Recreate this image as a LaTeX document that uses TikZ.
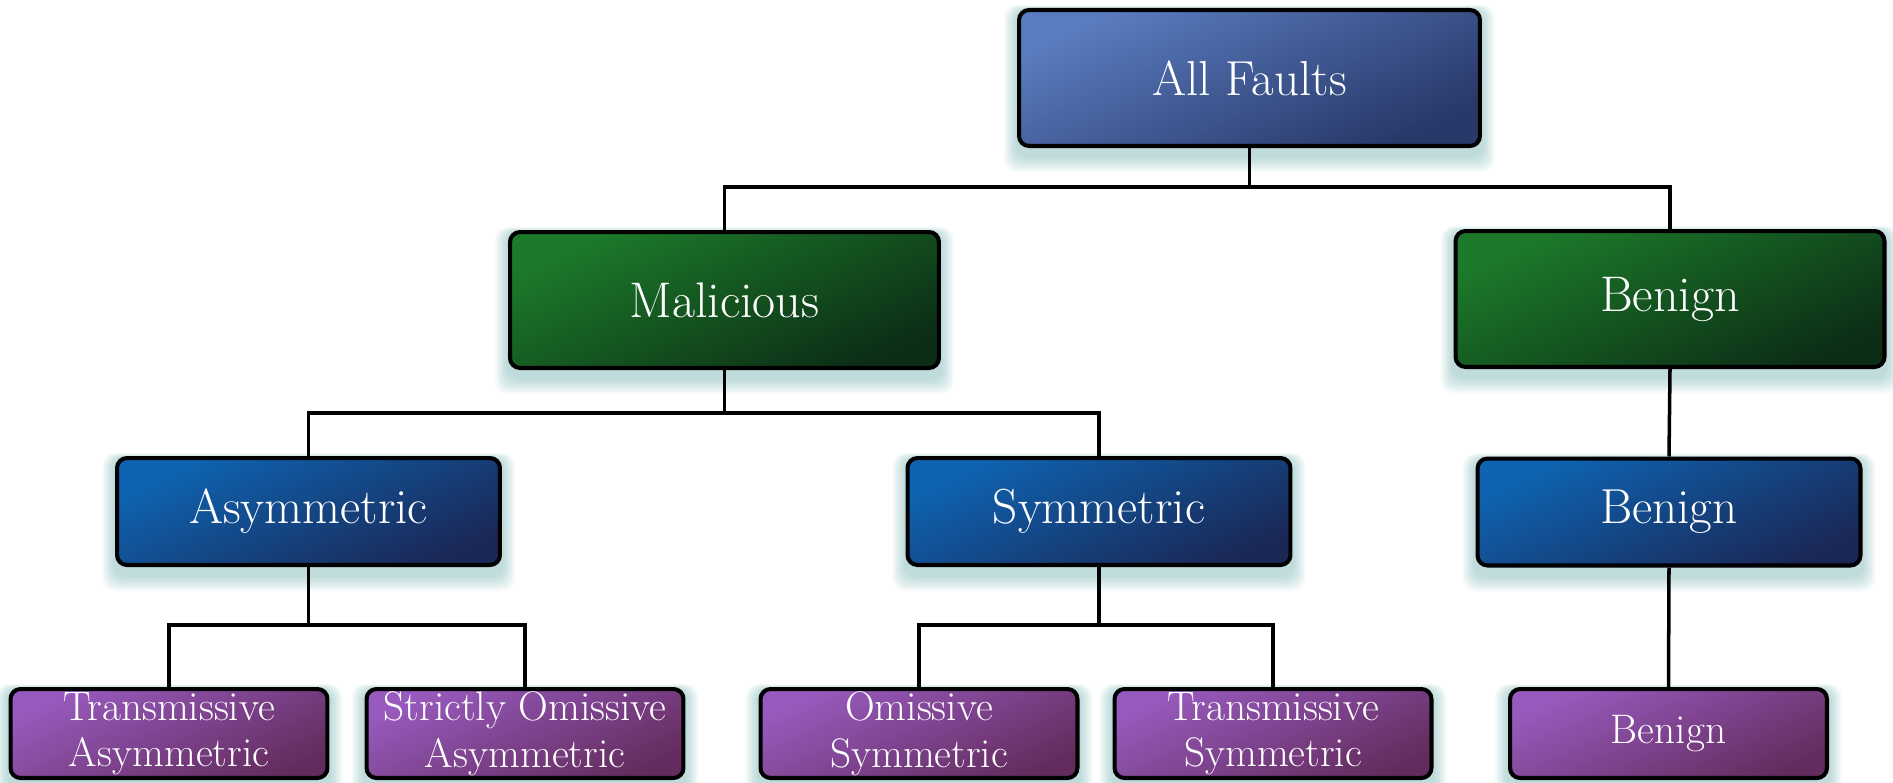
\documentclass[tikz,border=0pt]{standalone}
\usetikzlibrary{backgrounds,calc}
\definecolor{rootA}{RGB}{90,124,192}
\definecolor{rootB}{RGB}{40,56,104}
\definecolor{grnA}{RGB}{28,122,42}
\definecolor{grnB}{RGB}{12,46,22}
\definecolor{bluA}{RGB}{14,100,178}
\definecolor{bluB}{RGB}{26,40,86}
\definecolor{purA}{RGB}{152,90,190}
\definecolor{purB}{RGB}{100,44,94}
\definecolor{glowcol}{RGB}{70,150,150}
\tikzset{
  box/.style={draw=black,line width=2.3pt,rounded corners=0.2cm,text=white,align=center,inner sep=0pt},
  rootbox/.style={box,top color=rootA,bottom color=rootB,shading angle=25,minimum width=9.22cm,minimum height=2.72cm,font=\fontsize{28}{33}\selectfont},
  grnbox/.style={box,top color=grnA,bottom color=grnB,shading angle=25,minimum width=8.58cm,minimum height=2.72cm,font=\fontsize{28.5}{33}\selectfont},
  blubox/.style={box,top color=bluA,bottom color=bluB,shading angle=25,minimum width=7.66cm,minimum height=2.14cm,font=\fontsize{28}{33}\selectfont},
  purbox/.style={box,top color=purA,bottom color=purB,shading angle=25,minimum width=6.34cm,minimum height=1.78cm,font=\fontsize{23.5}{26.5}\selectfont},
  link/.style={draw=black,line width=2pt},
}
\begin{document}
\begin{tikzpicture}[x=0.02cm,y=-0.02cm]
  \useasboundingbox (0,0) rectangle (1893,782);
  % boxes
  \node[rootbox] (root) at (1249.5,78) {All Faults};
  \node[grnbox] (mal) at (724.5,300) {Malicious};
  \node[grnbox] (ben) at (1670,299) {Benign};
  \node[blubox] (asym) at (308.5,511.5) {Asymmetric};
  \node[blubox] (sym) at (1099,511.5) {Symmetric};
  \node[blubox] (benb) at (1669,512) {Benign};
  \node[purbox] (tasym) at (169,733.5) {Transmissive\\Asymmetric};
  \node[purbox] (soasym) at (525,733.5) {Strictly Omissive\\Asymmetric};
  \node[purbox] (osym) at (919,733.5) {Omissive\\Symmetric};
  \node[purbox] (tsym) at (1273,733.5) {Transmissive\\Symmetric};
  \node[purbox] (benp) at (1668.5,733.5) {Benign};
  % glow under the boxes
  \begin{scope}[on background layer]
    \foreach \n in {root,mal,ben,asym,sym,benb,tasym,soasym,osym,tsym,benp}
      \foreach \k in {1,...,8}
        \fill[glowcol,opacity=0.05,rounded corners=0.25cm]
          ($(\n.north west)+(-1.6*\k,2-0.6*\k)$) rectangle ($(\n.south east)+(1.6*\k,8+2*\k)$);
  \end{scope}
  % connectors
  \coordinate (bus0) at (1249.5,187);
  \coordinate (bus1) at (724.5,413);
  \coordinate (bus2) at (308.5,625);
  \coordinate (bus3) at (1099,625);
  \draw[link] (root.south) -- (bus0);
  \draw[link] (mal.north) |- (bus0) -| (ben.north);
  \draw[link] (mal.south) -- (bus1);
  \draw[link] (asym.north) |- (bus1) -| (sym.north);
  \draw[link] (ben.south) -- (benb.north);
  \draw[link] (asym.south) -- (bus2);
  \draw[link] (tasym.north) |- (bus2) -| (soasym.north);
  \draw[link] (sym.south) -- (bus3);
  \draw[link] (osym.north) |- (bus3) -| (tsym.north);
  \draw[link] (benb.south) -- (benp.north);
\end{tikzpicture}
\end{document}
